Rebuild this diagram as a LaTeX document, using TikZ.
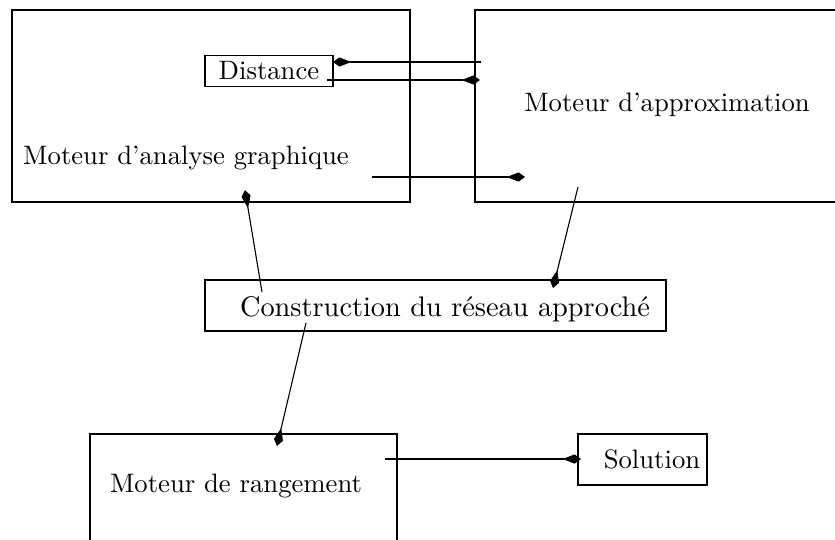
\documentclass[tikz,border=0pt]{standalone}
\usetikzlibrary{arrows.meta}
\begin{document}
\begin{tikzpicture}[x=0.36pt,y=-0.36pt,
  box/.style={draw,line width=0.4pt},
  lbl/.style={inner sep=0pt,font=\fontsize{9.6}{12}\selectfont},
  flow/.style={line width=0.4pt,-{Kite[length=6.6pt,width=3.3pt,inset=4.3pt]}}]
\useasboundingbox (0,0) rectangle (835,539);
\clip (0,0) rectangle (835,539);
% engine boxes
\draw[box] (12,10) rectangle (410,202);
\draw[box] (475,10) rectangle (850,202);
\draw[box] (205,280) rectangle (666,331);
\draw[box] (90,434) rectangle (397,560);
\draw[box] (578,434) rectangle (707,485);
% box titles
\node[lbl] (analyse) at (186,158) {Moteur d'analyse graphique};
\node[lbl] (approx) at (667,105) {Moteur d'approximation};
\node[draw,line width=0.4pt,minimum width=128*0.36pt,minimum height=31*0.36pt,inner sep=0pt,font=\fontsize{9.6}{12}\selectfont] (dist) at (269,71) {Distance};
\node[lbl,font=\fontsize{10.2}{12}\selectfont] (constr) at (445,309) {Construction du réseau approché};
\node[lbl] (range) at (236,486) {Moteur de rangement};
\node[lbl] (sol) at (652,459) {Solution};
% connector ends
\coordinate (a1s) at (481,62);  \coordinate (a1e) at (333,62);
\coordinate (a2s) at (327,80);  \coordinate (a2e) at (480,80);
\coordinate (a3s) at (372,177); \coordinate (a3e) at (525,177);
\coordinate (a4s) at (262,292); \coordinate (a4e) at (245,190);
\coordinate (a5s) at (578,187); \coordinate (a5e) at (553,288);
\coordinate (a6s) at (306,323); \coordinate (a6e) at (277,446);
\coordinate (a7s) at (385,459); \coordinate (a7e) at (581,459);
% data flow
\draw[flow] (a1s) -- (a1e);
\draw[flow] (a2s) -- (a2e);
\draw[flow] (a3s) -- (a3e);
\draw[flow] (a4s) -- (a4e);
\draw[flow] (a5s) -- (a5e);
\draw[flow] (a6s) -- (a6e);
\draw[flow] (a7s) -- (a7e);
\end{tikzpicture}
\end{document}
